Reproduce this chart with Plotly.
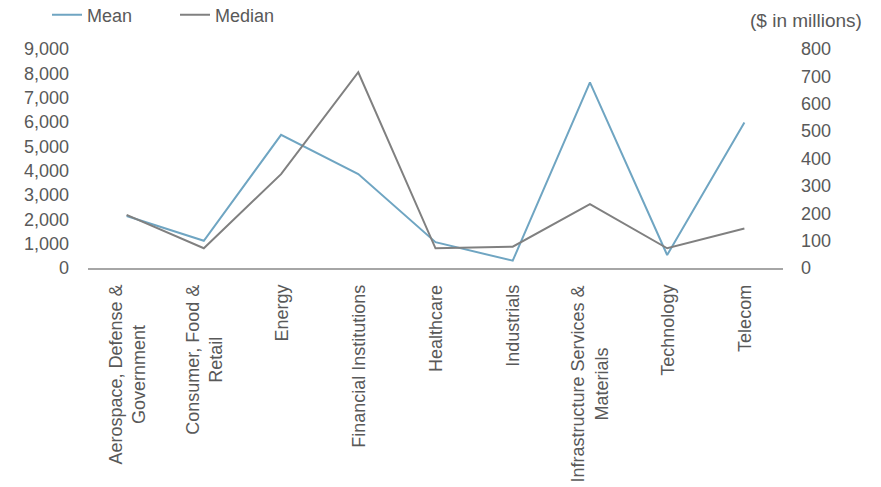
import plotly.graph_objects as go

categories = ["Aerospace, Defense &<br>Government", "Consumer, Food &<br>Retail", "Energy",
              "Financial Institutions", "Healthcare", "Industrials",
              "Infrastructure Services &<br>Materials", "Technology", "Telecom"]
mean_vals = [2140, 1120, 5470, 3860, 1060, 300, 7630, 535, 5980]
median_vals = [194, 72, 343, 715, 72, 78, 233, 72, 144]
left_ticks = [0, 1000, 2000, 3000, 4000, 5000, 6000, 7000, 8000, 9000]
right_ticks = [0, 100, 200, 300, 400, 500, 600, 700, 800]

FONT = "Liberation Sans, Arial, sans-serif"
TXT = "#595959"
FS = 18

W, H = 881, 487

fig = go.Figure()
fig.add_trace(go.Scatter(x=categories, y=mean_vals, name="Mean", mode="lines",
                         line=dict(color="#6FA5C2", width=2), yaxis="y"))
fig.add_trace(go.Scatter(x=categories, y=median_vals, name="Median", mode="lines",
                         line=dict(color="#808080", width=2), yaxis="y2"))

cat_annotations = [
    dict(text=c, x=c, xref="x", y=0, yref="paper", yshift=-15, textangle=-90,
         xanchor="center", yanchor="top", align="center", showarrow=False,
         font=dict(size=FS, color=TXT))
    for c in categories
]

fig.update_layout(
    width=W, height=H,
    margin=dict(l=88, r=98, t=49, b=219, autoexpand=False),
    paper_bgcolor="white", plot_bgcolor="white",
    font=dict(family=FONT, size=FS, color=TXT),
    showlegend=True,
    legend=dict(orientation="h", xref="container", yref="container",
                x=47 / W, xanchor="left", y=1 - 15 / H, yanchor="middle",
                font=dict(size=FS, color=TXT), bgcolor="rgba(0,0,0,0)",
                entrywidth=83, entrywidthmode="pixels"),
    xaxis=dict(type="category", showgrid=False, showline=True, linecolor="#A6A6A6",
               linewidth=2, ticks="", showticklabels=False,
               range=[-0.5, 8.5], automargin=False),
    yaxis=dict(range=[0, 9000], tickvals=left_ticks, tickformat=",d", showgrid=False,
               zeroline=False, showline=False, ticks="", ticklabelstandoff=18,
               tickfont=dict(size=FS, color=TXT), automargin=False),
    yaxis2=dict(range=[0, 800], tickvals=right_ticks, overlaying="y", side="right",
                showgrid=False, zeroline=False, showline=False, ticks="",
                ticklabelstandoff=17, tickfont=dict(size=FS, color=TXT), automargin=False),
    annotations=cat_annotations + [
        dict(text="($ in millions)", xref="paper", yref="paper", x=(864 - 88) / 695,
             y=(268 - 20) / 219, xanchor="right", yanchor="middle", showarrow=False,
             font=dict(size=19, color=TXT))],
)

fig.write_html("out.html", config={"displayModeBar": False},
               post_script="document.body.style.margin='0';document.body.style.overflow='hidden';")
